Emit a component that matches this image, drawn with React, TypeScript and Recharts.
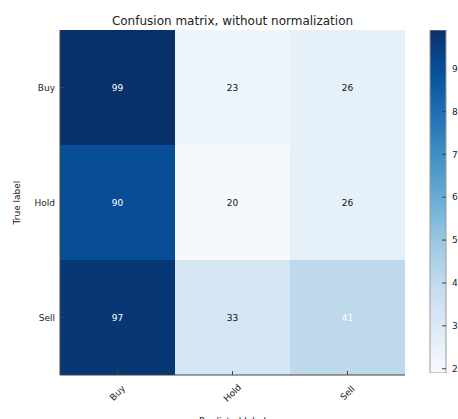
import React from "react";
import {
  BarChart, Bar, XAxis, YAxis, Cell, LabelList, Label
} from "recharts";

// confusion matrix counts, one array per true label
const classes = ["Buy", "Hold", "Sell"];
const buyRow = [99, 23, 26];
const holdRow = [90, 20, 26];
const sellRow = [97, 33, 41];
const matrix = [buyRow, holdRow, sellRow];

// colour bar
const cbarMin = 19;
const cbarMax = 99;
const cbarTicks = [20, 30, 40, 50, 60, 70, 80, 90];
const textThresh = 40;

const BLUES = [
  "#f7fbff", "#deebf7", "#c6dbef", "#9ecae1", "#6baed6",
  "#4292c6", "#2171b5", "#08519c", "#08306b",
];

function hexToRgb(h: string) {
  const n = parseInt(h.slice(1), 16);
  return [(n >> 16) & 255, (n >> 8) & 255, n & 255];
}

function blues(v: number) {
  const t = Math.max(0, Math.min(1, (v - cbarMin) / (cbarMax - cbarMin)));
  const p = t * (BLUES.length - 1);
  const i = Math.min(BLUES.length - 2, Math.floor(p));
  const f = p - i;
  const a = hexToRgb(BLUES[i]);
  const b = hexToRgb(BLUES[i + 1]);
  const c = a.map((x, k) => Math.round(x + (b[k] - x) * f));
  return `rgb(${c[0]},${c[1]},${c[2]})`;
}

const FONT = "DejaVu Sans, sans-serif";
const AXIS = "#444";

// each cell is one unit wide on the x scale
const table = classes.map((name) => ({ row: name, c0: 1, c1: 1, c2: 1 }));
const cbarData = [{ name: "cb", v: cbarMax }];

const XTick = (props: any) => {
  const { x, y, payload } = props;
  const idx = Math.floor(payload.value);
  return (
    <text
      transform={`translate(${x},${y + 18}) rotate(-45)`}
      textAnchor="middle"
      dominantBaseline="central"
      fontSize={9}
      fontFamily={FONT}
      fill="#222"
    >
      {classes[idx]}
    </text>
  );
};

const cellLabel = (col: number) => (props: any) => {
  const { x, y, width, height, index } = props;
  const v = matrix[index][col];
  return (
    <text
      x={x + width / 2}
      y={y + height / 2}
      textAnchor="middle"
      dominantBaseline="central"
      fontSize={9}
      fontFamily={FONT}
      fill={v > textThresh ? "#fff" : "#111"}
    >
      {v}
    </text>
  );
};

export default function App() {
  return (
    <div style={{ position: "absolute", left: 0, top: 0, width: 458, height: 419, background: "#fff", overflow: "hidden" }}>
      <div
        style={{
          position: "absolute", left: 60, top: 14, width: 345,
          textAlign: "center", fontFamily: FONT, fontSize: 12, color: "#222", lineHeight: "14px",
        }}
      >
        Confusion matrix, without normalization
      </div>

      <div style={{ position: "absolute", left: 0, top: 0 }}>
        <BarChart
          width={420}
          height={419}
          data={table}
          layout="vertical"
          barCategoryGap={0}
          margin={{ top: 30, right: 15, bottom: 0, left: 0 }}
        >
          <XAxis
            type="number"
            domain={[0, 3]}
            ticks={[0.5, 1.5, 2.5]}
            height={44}
            tick={<XTick />}
            tickSize={-4}
            tickMargin={4}
            axisLine={{ stroke: AXIS }}
            tickLine={{ stroke: AXIS }}
          >
            <Label
              value="Predicted label"
              position="insideBottom"
              offset={-5}
              style={{ fontSize: 9, fontFamily: FONT, fill: "#222" }}
            />
          </XAxis>
          <XAxis
            xAxisId="top"
            orientation="top"
            type="number"
            domain={[0, 3]}
            ticks={[0.5, 1.5, 2.5]}
            height={0}
            tick={false}
            tickSize={-4}
            axisLine={{ stroke: AXIS }}
            tickLine={{ stroke: AXIS }}
          />
          <YAxis
            type="category"
            dataKey="row"
            width={60}
            tickSize={-4}
            tickMargin={9}
            tick={{ fontSize: 9, fontFamily: FONT, fill: "#222" }}
            axisLine={{ stroke: AXIS }}
            tickLine={{ stroke: AXIS }}
          >
            <Label
              value="True label"
              angle={-90}
              position="insideLeft"
              offset={17}
              style={{ fontSize: 9, fontFamily: FONT, fill: "#222", textAnchor: "middle" }}
            />
          </YAxis>
          <YAxis
            yAxisId="right"
            orientation="right"
            type="category"
            dataKey="row"
            width={0}
            tick={false}
            tickSize={-4}
            axisLine={{ stroke: AXIS }}
            tickLine={{ stroke: AXIS }}
          />
          {[0, 1, 2].map((col) => (
            <Bar
              key={col}
              dataKey={`c${col}`}
              stackId="m"
              isAnimationActive={false}
            >
              {matrix.map((r, i) => (
                <Cell key={i} fill={blues(r[col])} />
              ))}
              <LabelList dataKey={`c${col}`} content={cellLabel(col)} />
            </Bar>
          ))}
        </BarChart>
      </div>

      <div style={{ position: "absolute", left: 420, top: 0 }}>
        <BarChart
          width={38}
          height={419}
          data={cbarData}
          barCategoryGap={0}
          margin={{ top: 30, right: 0, bottom: 46, left: 10 }}
        >
          <defs>
            <linearGradient id="bluesGrad" x1="0" y1="1" x2="0" y2="0">
              {BLUES.map((c, i) => (
                <stop key={i} offset={`${(i / (BLUES.length - 1)) * 100}%`} stopColor={c} />
              ))}
            </linearGradient>
          </defs>
          <XAxis dataKey="name" hide />
          <YAxis
            orientation="right"
            type="number"
            domain={[cbarMin, cbarMax]}
            ticks={cbarTicks}
            allowDataOverflow
            width={12}
            tickSize={-4}
            tickMargin={10}
            axisLine={false}
            tickLine={{ stroke: AXIS }}
            tick={{ fontSize: 9, fontFamily: FONT, fill: "#222", textAnchor: "start" }}
          />
          <Bar
            dataKey="v"
            fill="url(#bluesGrad)"
            stroke="#999"
            strokeWidth={1}
            isAnimationActive={false}
          />
        </BarChart>
      </div>
    </div>
  );
}
